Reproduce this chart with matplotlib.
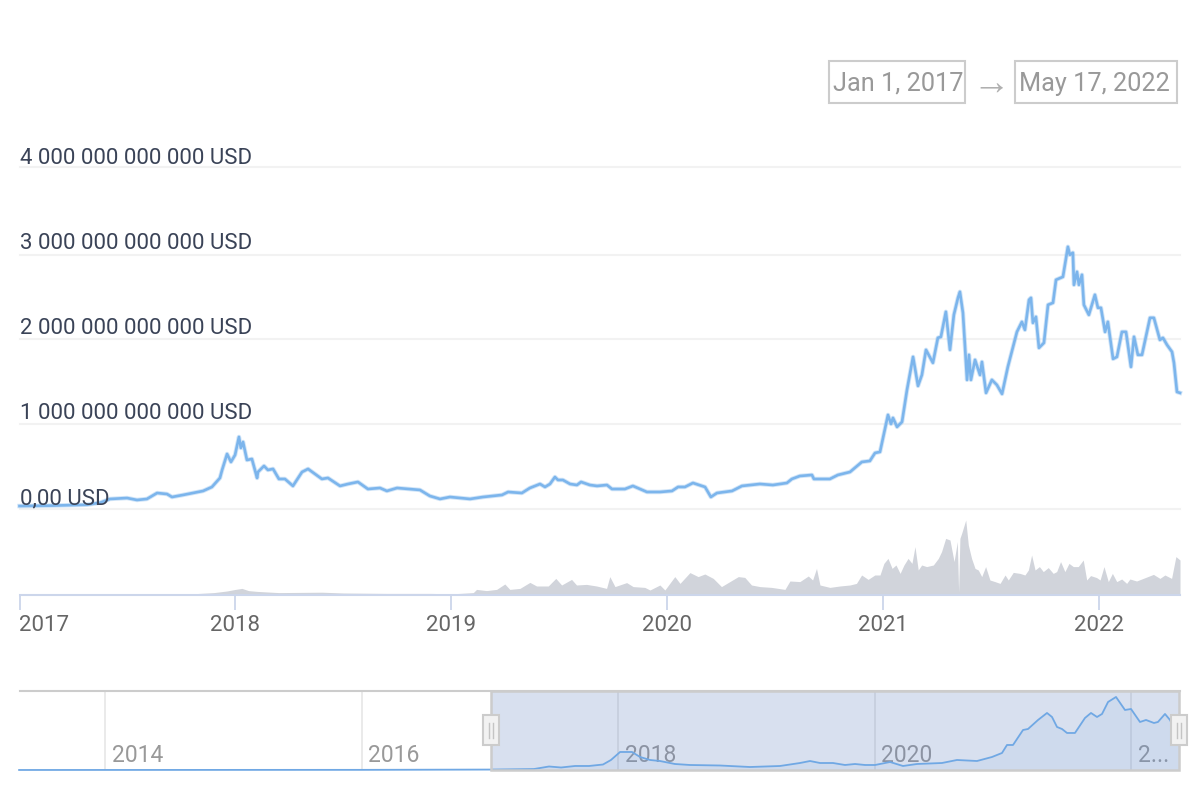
import matplotlib
matplotlib.use("Agg")
from matplotlib import pyplot as plt
import matplotlib.patches as patches

plt.rcParams['font.family'] = ['Roboto', 'DejaVu Sans']

# market cap, trillions of USD
cap_years = [2017.0, 2017.155, 2017.313, 2017.373, 2017.419, 2017.498, 2017.544, 2017.590, 2017.637, 2017.683,
             2017.706, 2017.757, 2017.803, 2017.850, 2017.891, 2017.928, 2017.938, 2017.961, 2017.979, 2017.998,
             2018.016, 2018.025, 2018.035, 2018.053, 2018.076, 2018.100, 2018.104, 2018.132, 2018.150, 2018.174,
             2018.201, 2018.229, 2018.266, 2018.308, 2018.336, 2018.400, 2018.428, 2018.484, 2018.521, 2018.567,
             2018.613, 2018.669, 2018.701, 2018.748, 2018.854, 2018.900, 2018.947, 2018.993, 2019.086, 2019.146,
             2019.234, 2019.262, 2019.326, 2019.363, 2019.410, 2019.433, 2019.456, 2019.479, 2019.493, 2019.516,
             2019.549, 2019.581, 2019.600, 2019.641, 2019.674, 2019.720, 2019.743, 2019.803, 2019.840, 2019.905,
             2019.965, 2020.021, 2020.049, 2020.081, 2020.118, 2020.174, 2020.201, 2020.229, 2020.299, 2020.345,
             2020.428, 2020.488, 2020.553, 2020.576, 2020.613, 2020.669, 2020.678, 2020.752, 2020.789, 2020.845,
             2020.900, 2020.937, 2020.961, 2020.984, 2020.998, 2021.021, 2021.035, 2021.044, 2021.063, 2021.086,
             2021.109, 2021.137, 2021.160, 2021.178, 2021.197, 2021.229, 2021.252, 2021.266, 2021.289, 2021.308,
             2021.326, 2021.345, 2021.354, 2021.368, 2021.387, 2021.396, 2021.405, 2021.424, 2021.447, 2021.456,
             2021.475, 2021.502, 2021.525, 2021.549, 2021.576, 2021.618, 2021.641, 2021.655, 2021.674, 2021.683,
             2021.692, 2021.706, 2021.720, 2021.743, 2021.762, 2021.785, 2021.799, 2021.831, 2021.854, 2021.863,
             2021.877, 2021.882, 2021.896, 2021.905, 2021.919, 2021.928, 2021.951, 2021.979, 2021.993, 2022.007,
             2022.026, 2022.039, 2022.063, 2022.081, 2022.104, 2022.123, 2022.146, 2022.160, 2022.178, 2022.197,
             2022.234, 2022.252, 2022.280, 2022.294, 2022.313, 2022.336, 2022.345, 2022.359, 2022.373]
cap_values = [0.035, 0.04, 0.05, 0.074, 0.118, 0.129, 0.106, 0.118, 0.188, 0.176,
              0.141, 0.165, 0.188, 0.212, 0.259, 0.365, 0.459, 0.647, 0.553, 0.635,
              0.847, 0.718, 0.788, 0.576, 0.588, 0.365, 0.435, 0.506, 0.459, 0.471,
              0.353, 0.353, 0.271, 0.435, 0.471, 0.353, 0.365, 0.271, 0.294, 0.318,
              0.235, 0.247, 0.212, 0.247, 0.224, 0.153, 0.118, 0.141, 0.118, 0.141,
              0.165, 0.2, 0.188, 0.247, 0.294, 0.259, 0.294, 0.376, 0.341, 0.341,
              0.294, 0.282, 0.318, 0.282, 0.271, 0.282, 0.235, 0.235, 0.271, 0.2,
              0.2, 0.212, 0.259, 0.259, 0.306, 0.259, 0.141, 0.188, 0.212, 0.271,
              0.294, 0.282, 0.306, 0.353, 0.388, 0.4, 0.353, 0.353, 0.4, 0.435,
              0.553, 0.565, 0.659, 0.671, 0.835, 1.106, 1.0, 1.071, 0.965, 1.024,
              1.4, 1.788, 1.447, 1.576, 1.871, 1.718, 2.012, 2.024, 2.318, 1.871,
              2.282, 2.482, 2.553, 2.306, 1.518, 1.812, 1.518, 1.753, 1.576, 1.729,
              1.365, 1.518, 1.459, 1.353, 1.671, 2.082, 2.2, 2.106, 2.459, 2.482,
              2.188, 2.259, 1.894, 1.953, 2.4, 2.424, 2.694, 2.729, 3.082, 2.988,
              3.012, 2.635, 2.788, 2.635, 2.753, 2.4, 2.282, 2.518, 2.365, 2.365,
              2.082, 2.2, 1.765, 1.788, 2.082, 2.082, 1.671, 2.024, 1.812, 1.812,
              2.247, 2.247, 1.988, 2.012, 1.929, 1.847, 1.718, 1.376, 1.365]

# traded volume, billions of USD
vol_years = [2017.0, 2017.5, 2017.8, 2017.9, 2017.96, 2018.0, 2018.03, 2018.06, 2018.1, 2018.2,
             2018.4, 2018.5, 2018.7, 2018.9, 2019.0, 2019.039, 2019.101, 2019.116, 2019.162, 2019.209,
             2019.247, 2019.270, 2019.317, 2019.363, 2019.394, 2019.448, 2019.483, 2019.510, 2019.556, 2019.579,
             2019.625, 2019.672, 2019.718, 2019.733, 2019.757, 2019.811, 2019.841, 2019.895, 2019.919, 2019.965,
             2019.988, 2020.034, 2020.058, 2020.104, 2020.142, 2020.173, 2020.212, 2020.250, 2020.289, 2020.328,
             2020.358, 2020.389, 2020.428, 2020.482, 2020.544, 2020.567, 2020.613, 2020.652, 2020.672, 2020.690,
             2020.706, 2020.752, 2020.798, 2020.845, 2020.875, 2020.899, 2020.929, 2020.960, 2020.984, 2021.002,
             2021.021, 2021.040, 2021.058, 2021.077, 2021.095, 2021.114, 2021.132, 2021.146, 2021.161, 2021.177,
             2021.200, 2021.231, 2021.254, 2021.269, 2021.288, 2021.308, 2021.327, 2021.342, 2021.348, 2021.354,
             2021.362, 2021.381, 2021.393, 2021.408, 2021.424, 2021.439, 2021.455, 2021.473, 2021.493, 2021.516,
             2021.540, 2021.563, 2021.578, 2021.601, 2021.632, 2021.655, 2021.671, 2021.686, 2021.702, 2021.722,
             2021.740, 2021.763, 2021.786, 2021.802, 2021.820, 2021.840, 2021.859, 2021.879, 2021.902, 2021.925,
             2021.941, 2021.959, 2021.987, 2022.003, 2022.021, 2022.041, 2022.060, 2022.080, 2022.103, 2022.126,
             2022.141, 2022.172, 2022.203, 2022.250, 2022.280, 2022.303, 2022.334, 2022.354, 2022.373]
vol_values = [1, 4, 6, 12, 20, 28, 33, 22, 18, 12,
              14, 10, 8, 8, 6, 8, 12, 28, 22, 28,
              55, 28, 33, 63, 45, 45, 83, 50, 78, 50,
              53, 45, 33, 92, 42, 62, 42, 38, 25, 50,
              25, 92, 58, 112, 92, 105, 83, 42, 67, 92,
              88, 50, 42, 38, 28, 70, 67, 95, 75, 133,
              50, 38, 45, 50, 58, 100, 78, 100, 100, 158,
              183, 133, 150, 108, 150, 183, 158, 242, 125, 150,
              142, 150, 183, 217, 283, 275, 167, 267, 15, 283,
              308, 375, 250, 183, 133, 125, 92, 142, 75, 67,
              58, 100, 75, 113, 108, 100, 125, 200, 125, 142,
              117, 137, 108, 117, 167, 117, 158, 142, 142, 175,
              75, 97, 87, 75, 142, 67, 108, 67, 80, 58,
              80, 70, 83, 103, 83, 100, 83, 192, 175]

# smoothed market cap in the navigator, trillions of USD
nav_years = [2013.33, 2016.0, 2017.01, 2017.345, 2017.462, 2017.556, 2017.665, 2017.774, 2017.883, 2017.945,
             2018.016, 2018.109, 2018.172, 2018.250, 2018.327, 2018.444, 2018.561, 2018.795, 2019.029, 2019.263,
             2019.419, 2019.497, 2019.575, 2019.676, 2019.770, 2019.848, 2019.926, 2020.004, 2020.121, 2020.222,
             2020.331, 2020.526, 2020.643, 2020.799, 2020.916, 2020.994, 2021.033, 2021.080, 2021.158, 2021.197,
             2021.275, 2021.345, 2021.384, 2021.423, 2021.462, 2021.501, 2021.563, 2021.641, 2021.688, 2021.735,
             2021.774, 2021.821, 2021.883, 2021.953, 2022.0, 2022.070, 2022.117, 2022.179, 2022.210, 2022.265,
             2022.304, 2022.372]
nav_values = [0.001, 0.006, 0.018, 0.04, 0.144, 0.103, 0.165, 0.165, 0.226, 0.412,
              0.741, 0.741, 0.535, 0.412, 0.37, 0.247, 0.206, 0.185, 0.123, 0.165,
              0.288, 0.37, 0.288, 0.288, 0.206, 0.247, 0.206, 0.206, 0.329, 0.165,
              0.247, 0.288, 0.412, 0.37, 0.535, 0.7, 1.029, 1.029, 1.646, 1.687,
              2.058, 2.346, 2.181, 1.77, 1.687, 1.523, 1.523, 2.14, 2.346, 2.181,
              2.305, 2.798, 3.004, 2.469, 2.51, 1.975, 2.058, 1.934, 1.975, 2.305,
              2.058, 1.36]

y_grid = [0, 1, 2, 2.99, 4.02]
y_label_levels = [0, 1, 2, 3, 4]
y_labels = ['0,00 USD', '1 000 000 000 000 USD', '2 000 000 000 000 USD',
            '3 000 000 000 000 USD', '4 000 000 000 000 USD']
x_ticks = [2017, 2018, 2019, 2020, 2021, 2022]
nav_ticks = [2014, 2016, 2018, 2020, 2022]
nav_labels = ['2014', '2016', '2018', '2020', '2...']
range_start = 'Jan 1, 2017'
range_end = 'May 17, 2022'

W, H = 1200, 800
LINE = '#7cb5ec'
TEXT = '#3a4357'


def rect_px(left, top, right, bottom):
    # pixel box measured from the top left -> figure fractions
    return [left / W, 1 - bottom / H, (right - left) / W, (bottom - top) / H]


fig = plt.figure(figsize=(12, 8), dpi=100)

# main line chart
ax = fig.add_axes(rect_px(19.5, 167, 1180, 509))
ax.set_xlim(2017, 2022.373)
ax.set_ylim(0, 4.02)
ax.axis('off')
for val in y_grid:
    ax.axhline(val, color='#f2f2f2', lw=1.5, zorder=1, clip_on=False)
for val, label in zip(y_label_levels, y_labels):
    ax.annotate(label, (0, val), xycoords=('axes fraction', 'data'), xytext=(0.5, 0), textcoords='offset points',
                va='bottom', ha='left', fontsize=16.05, color=TEXT, zorder=5)
# wide faint stroke first, the reference line has soft edges
ax.plot(cap_years, cap_values, color=LINE, lw=3.2, alpha=0.35, zorder=2.5, clip_on=False, solid_joinstyle='round')
ax.plot(cap_years, cap_values, color=LINE, lw=1.9, zorder=3, clip_on=False, solid_joinstyle='round')

# volume under it
ax_vol = fig.add_axes(rect_px(19.5, 520, 1180, 595))
ax_vol.set_xlim(2017, 2022.373)
ax_vol.set_ylim(0, 375)
ax_vol.fill_between(vol_years, vol_values, color='#d1d4db', lw=0)
for side in ['top', 'left', 'right']:
    ax_vol.spines[side].set_visible(False)
ax_vol.spines['bottom'].set_color('#ccd6eb')
ax_vol.spines['bottom'].set_linewidth(1.5)
ax_vol.set_yticks([])
ax_vol.set_xticks(x_ticks)
ax_vol.set_xticklabels([str(t) for t in x_ticks], fontsize=16, color='#666666')
ax_vol.tick_params(axis='x', length=10.5, width=1.3, color='#ccd6eb', pad=4)
ax_vol.get_xticklabels()[0].set_ha('left')
ax_vol.patch.set_alpha(0)

# navigator
ax_nav = fig.add_axes(rect_px(20, 691, 1180, 770))
ax_nav.set_xlim(2013.337, 2022.382)
ax_nav.set_ylim(0, 3.25)
for side in ['left', 'right', 'bottom']:
    ax_nav.spines[side].set_visible(False)
ax_nav.spines['top'].set_color('#cccccc')
ax_nav.spines['top'].set_linewidth(1.5)
ax_nav.set_xticks([])
ax_nav.set_yticks([])
for tick, label in zip(nav_ticks, nav_labels):
    ax_nav.axvline(tick, color='#e6e6e6', lw=1.2, zorder=1)
    ax_nav.annotate(label, (tick, 0), xycoords=('data', 'axes fraction'), xytext=(5, 2.5), textcoords='offset points',
                    ha='left', va='bottom', fontsize=16.5, color='#999999', zorder=2)
ax_nav.fill_between(nav_years, nav_values, color=LINE, alpha=0.1, lw=0, zorder=3)
ax_nav.axvspan(2017.01, 2022.372, color='#6684c0', alpha=0.25, lw=0, zorder=3.5)
ax_nav.plot(nav_years, nav_values, color='#70a8e4', lw=1.3, zorder=4, clip_on=False, solid_joinstyle='round')
ax_nav.add_patch(patches.Rectangle((2017.01, 0), 5.362, 1, transform=ax_nav.get_xaxis_transform(), fill=False,
                                   edgecolor='#cccccc', lw=1.8, zorder=6, clip_on=False))

# navigator handles
for cx in [491, 1179]:
    l, b, w, h = rect_px(cx - 8, 715, cx + 8, 745)
    fig.add_artist(patches.Rectangle((l, b), w, h, transform=fig.transFigure, facecolor='#f2f2f2',
                                     edgecolor='#cccccc', lw=1.5, zorder=10))
    for dx in [-2, 2]:
        fig.add_artist(plt.Line2D([(cx + dx) / W] * 2, [1 - 723 / H, 1 - 738 / H], color='#c4c4c4', lw=1, zorder=11))

# range inputs on top
for text, left, right in [(range_start, 829, 965), (range_end, 1015, 1177)]:
    l, b, w, h = rect_px(left, 61, right, 103)
    fig.add_artist(patches.Rectangle((l, b), w, h, transform=fig.transFigure, fill=False,
                                     edgecolor='#cccccc', lw=1.5))
    fig.text((left + 4) / W, 1 - 84 / H, text, fontsize=18.2, color='#999999', va='center', ha='left')
fig.text(991 / W, 1 - 84 / H, '\u2192', fontsize=27, color='#b0b0b0', va='center', ha='center',
         family='Liberation Sans')

fig.savefig('out.png', dpi=100)
